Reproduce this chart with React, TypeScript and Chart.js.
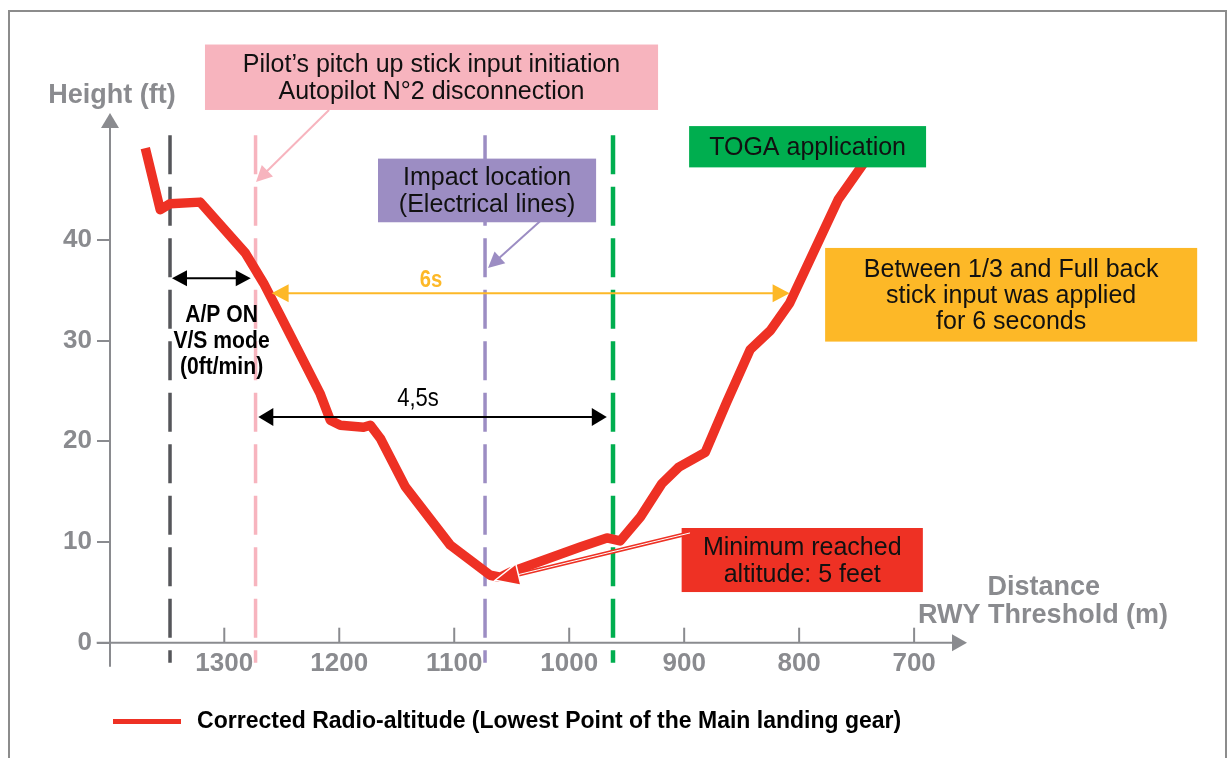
import React, { useEffect, useRef } from "react";
import { Chart, registerables } from "chart.js";

Chart.register(...registerables);

// ---------- data ----------
const distanceM = [1368.7, 1355.7, 1347, 1321, 1281.7, 1265.8, 1251.3, 1216.5, 1207.8, 1199, 1178.9, 1173, 1164.3, 1142.6, 1103.5, 1068.7, 1060, 1051.3, 990.4, 967.2, 955.7, 938, 919.4, 905, 881.7, 863, 842.6, 825, 808.3, 766, 742];
const heightFt = [49.1, 43.0, 43.6, 43.75, 38.7, 35.7, 32.5, 24.7, 22.1, 21.6, 21.4, 21.6, 20.3, 15.5, 9.7, 6.7, 6.5, 7.0, 9.5, 10.4, 10.1, 12.5, 15.8, 17.4, 18.9, 23.9, 29.1, 31.0, 33.7, 44.0, 47.9];
const xTickValues = [1300, 1200, 1100, 1000, 900, 800, 700];
const yTickValues = [0, 10, 20, 30, 40];
const seriesLabel = "Corrected Radio-altitude (Lowest Point of the Main landing gear)";

// event (vertical dashed line) distances: A/P ON, pitch up / AP2 disc., impact, TOGA
const eventDistanceM = [1347.2, 1272.8, 1073.2, 961.9];

// ---------- styles ----------
const GRAY = "#8a8b8f";
const RED = "#ee3124";
const PINK = "#f7b4be";
const PURPLE = "#9c8dc3";
const GREEN = "#00ae4f";
const YELLOW = "#fdb827";
const INK = "#111111";
const SANS = '"Liberation Sans", Arial, Helvetica, sans-serif';
const eventStyles = [
  { color: "#55565a", width: 3.5 },
  { color: PINK, width: 3.5 },
  { color: PURPLE, width: 3.5 },
  { color: GREEN, width: 4.5 },
];

export default function App() {
  const ref = useRef<HTMLCanvasElement>(null);

  useEffect(() => {
    const canvas = ref.current;
    if (!canvas) return;

    const tri = (ctx: CanvasRenderingContext2D, tx: number, ty: number, ang: number, len: number, half: number) => {
      const bx = tx - Math.cos(ang) * len;
      const by = ty - Math.sin(ang) * len;
      const nx = -Math.sin(ang) * half;
      const ny = Math.cos(ang) * half;
      ctx.beginPath();
      ctx.moveTo(tx, ty);
      ctx.lineTo(bx + nx, by + ny);
      ctx.lineTo(bx - nx, by - ny);
      ctx.closePath();
    };

    const decor = {
      id: "decor",
      afterLayout(chart: any) {
        // start the legend row under the plot's left edge
        if (chart.legend) chart.legend.left += 100;
      },
      beforeDatasetsDraw(chart: any) {
        const { ctx } = chart;
        const xs = chart.scales.x;
        const ys = chart.scales.y;
        const X = (v: number) => xs.getPixelForValue(v);
        const Y = (v: number) => ys.getPixelForValue(v);
        ctx.save();
        // vertical event lines
        eventDistanceM.forEach((d, i) => {
          ctx.beginPath();
          ctx.strokeStyle = eventStyles[i].color;
          ctx.lineWidth = eventStyles[i].width;
          ctx.setLineDash([39, 12.5]);
          ctx.moveTo(X(d), Y(50.4));
          ctx.lineTo(X(d), Y(-2.0));
          ctx.stroke();
        });
        ctx.setLineDash([]);
        // axes
        ctx.strokeStyle = GRAY;
        ctx.fillStyle = GRAY;
        ctx.lineWidth = 2;
        const x0 = xs.left;
        const y0 = Y(0);
        ctx.beginPath();
        ctx.moveTo(x0, Y(-2.4));
        ctx.lineTo(x0, ys.top + 12);
        ctx.stroke();
        tri(ctx, x0, ys.top, -Math.PI / 2, 15, 9);
        ctx.fill();
        ctx.beginPath();
        ctx.moveTo(X(1411), y0);
        ctx.lineTo(xs.right - 12, y0);
        ctx.stroke();
        tri(ctx, xs.right, y0, 0, 15, 8.5);
        ctx.fill();
        xs.ticks.forEach((t: any) => {
          const px = X(t.value);
          ctx.beginPath();
          ctx.moveTo(px, y0);
          ctx.lineTo(px, y0 - 15);
          ctx.stroke();
        });
        ctx.restore();
      },
      afterDatasetsDraw(chart: any) {
        const { ctx } = chart;
        const xs = chart.scales.x;
        const ys = chart.scales.y;
        const X = (v: number) => xs.getPixelForValue(v);
        const Y = (v: number) => ys.getPixelForValue(v);
        ctx.save();

        const text = (s: string, x: number, y: number, font: string, color: string, hScale = 1) => {
          ctx.save();
          ctx.font = font;
          ctx.fillStyle = color;
          ctx.textAlign = "center";
          ctx.textBaseline = "middle";
          ctx.translate(x, y);
          ctx.scale(hScale, 1);
          ctx.fillText(s, 0, 0);
          ctx.restore();
        };

        const box = (d1: number, d2: number, h1: number, h2: number, fill: string, lines: string[], size: number, lh: number) => {
          const l = X(d1), r = X(d2), t = Y(h1), b = Y(h2);
          ctx.fillStyle = fill;
          ctx.fillRect(l, t, r - l, b - t);
          const cx = (l + r) / 2;
          const cy = (t + b) / 2 + 1.5;
          lines.forEach((s, i) => {
            text(s, cx, cy + (i - (lines.length - 1) / 2) * lh, `${size}px ${SANS}`, INK);
          });
        };

        const pointer = (fd: number, fh: number, td: number, th: number, color: string) => {
          const fx = X(fd), fy = Y(fh), tx = X(td), ty = Y(th);
          const ang = Math.atan2(ty - fy, tx - fx);
          ctx.strokeStyle = color;
          ctx.fillStyle = color;
          ctx.lineWidth = 2;
          ctx.beginPath();
          ctx.moveTo(fx, fy);
          ctx.lineTo(tx - Math.cos(ang) * 12, ty - Math.sin(ang) * 12);
          ctx.stroke();
          tri(ctx, tx, ty, ang, 16, 8);
          ctx.fill();
        };

        const dbl = (d1: number, d2: number, h: number, color: string, len: number, half: number) => {
          const x1 = X(d1), x2 = X(d2), y = Y(h);
          ctx.strokeStyle = color;
          ctx.fillStyle = color;
          ctx.lineWidth = 2;
          ctx.beginPath();
          ctx.moveTo(x1 + len * 0.8, y);
          ctx.lineTo(x2 - len * 0.8, y);
          ctx.stroke();
          tri(ctx, x1, y, Math.PI, len, half);
          ctx.fill();
          tri(ctx, x2, y, 0, len, half);
          ctx.fill();
        };

        // annotation boxes
        box(1316.8, 922.7, 59.4, 52.9, PINK, ["Pilot\u2019s pitch up stick input initiation", "Autopilot N\u00b02 disconnection"], 25, 27);
        box(1166.3, 976.6, 48.07, 41.75, PURPLE, ["Impact location", "(Electrical lines)"], 25, 27);
        box(895.7, 689.6, 51.3, 47.2, GREEN, ["TOGA application"], 25, 27);
        box(777.4, 453.8, 39.2, 29.9, YELLOW, ["Between 1/3 and Full back", "stick input was applied", "for 6 seconds"], 25, 26);
        box(902.2, 692.4, 11.39, 5.03, RED, ["Minimum reached", "altitude: 5 feet"], 25, 27);

        // pointers
        pointer(1208.9, 52.9, 1272.4, 45.75, PINK);
        pointer(1021, 42.3, 1070.6, 37.2, PURPLE);
        {
          const fx = X(894.9), fy = Y(10.9), tx = X(1064.5), ty = Y(6.2);
          const ang = Math.atan2(ty - fy, tx - fx);
          const bx = tx - Math.cos(ang) * 18, by = ty - Math.sin(ang) * 18;
          ctx.strokeStyle = RED;
          ctx.lineWidth = 4;
          ctx.beginPath();
          ctx.moveTo(fx, fy);
          ctx.lineTo(bx, by);
          ctx.stroke();
          ctx.strokeStyle = "#ffffff";
          ctx.lineWidth = 1;
          ctx.beginPath();
          ctx.moveTo(fx, fy);
          ctx.lineTo(bx, by);
          ctx.stroke();
          tri(ctx, tx, ty, ang, 24, 11);
          ctx.fillStyle = RED;
          ctx.fill();
          ctx.strokeStyle = "#ffffff";
          ctx.lineWidth = 1.5;
          ctx.stroke();
        }

        // interval arrows
        dbl(1345.5, 1277.0, 36.2, "#000000", 15, 8);
        dbl(1270.4, 967.3, 22.4, "#000000", 15, 9);
        dbl(1258.8, 808.3, 34.7, YELLOW, 17, 9);

        // labels (condensed look via horizontal scaling)
        text("6s", X(1120.2), Y(36.0), `bold 23px ${SANS}`, YELLOW, 0.88);
        text("4,5s", X(1131.5), Y(24.2), `25px ${SANS}`, "#000", 0.88);
        text("A/P ON", X(1302.4), Y(32.5), `bold 24px ${SANS}`, "#000", 0.88);
        text("V/S mode", X(1302.4), Y(29.95), `bold 24px ${SANS}`, "#000", 0.88);
        text("(0ft/min)", X(1302.4), Y(27.35), `bold 24px ${SANS}`, "#000", 0.88);

        // axis titles
        text("Height (ft)", X(1397.7), Y(54.3), `bold 27px ${SANS}`, GRAY);
        text("Distance", X(587.3), Y(5.43), `bold 27px ${SANS}`, GRAY);
        text("RWY Threshold (m)", X(587.8), Y(2.65), `bold 27px ${SANS}`, GRAY);

        ctx.restore();
      },
    };

    const chart = new Chart(canvas, {
      type: "line",
      data: {
        datasets: [
          {
            label: seriesLabel,
            data: distanceM.map((d, i) => ({ x: d, y: heightFt[i] })),
            borderColor: RED,
            backgroundColor: RED,
            borderWidth: 9.5,
            pointRadius: 0,
            tension: 0,
            borderJoinStyle: "round",
            borderCapStyle: "butt",
            fill: false,
          },
        ],
      },
      options: {
        responsive: false,
        animation: false,
        devicePixelRatio: 1,
        layout: { padding: { left: 0, right: 265, top: 113, bottom: 15 } },
        scales: {
          x: {
            type: "linear",
            reverse: true,
            min: 654,
            max: 1399.4,
            afterBuildTicks: (s: any) => {
              s.ticks = xTickValues.map((v) => ({ value: v }));
            },
            afterFit: (s: any) => {
              s.height = 54.3;
            },
            grid: { display: false, drawTicks: false },
            border: { display: false },
            ticks: {
              color: GRAY,
              padding: 6,
              maxRotation: 0,
              autoSkip: false,
              font: { family: SANS, size: 26, weight: "bold" },
              callback: (v: any) => String(v),
            },
          },
          y: {
            type: "linear",
            min: 0,
            max: 52.6,
            afterBuildTicks: (s: any) => {
              s.ticks = yTickValues.map((v) => ({ value: v }));
            },
            afterFit: (s: any) => {
              s.width = 110;
            },
            grid: { drawOnChartArea: false, drawTicks: true, tickLength: 13, color: GRAY, lineWidth: 2 },
            border: { display: false },
            ticks: {
              color: GRAY,
              padding: 5,
              font: { family: SANS, size: 26, weight: "bold" },
              callback: (v: any) => String(v),
            },
          },
        },
        plugins: {
          legend: {
            position: "bottom",
            align: "start",
            labels: {
              boxWidth: 68,
              boxHeight: 5,
              padding: 13,
              color: "#000",
              font: { family: SANS, size: 23, weight: "bold" },
              generateLabels: () => [
                {
                  text: "\u2009" + seriesLabel,
                  fillStyle: RED,
                  strokeStyle: RED,
                  lineWidth: 0,
                  hidden: false,
                  datasetIndex: 0,
                } as any,
              ],
            },
          },
          tooltip: { enabled: false },
        },
      },
      plugins: [decor],
    } as any);

    return () => chart.destroy();
  }, []);

  return (
    <div style={{ position: "absolute", left: 0, top: 0, width: 1232, height: 758, overflow: "hidden", background: "#fff" }}>
      <div
        style={{
          position: "absolute",
          left: 8,
          top: 10,
          width: 1219,
          height: 800,
          border: "2.5px solid #8c8c8c",
          boxSizing: "border-box",
        }}
      />
      <canvas ref={ref} width={1232} height={758} style={{ position: "absolute", left: 0, top: 0, width: 1232, height: 758 }} />
    </div>
  );
}
